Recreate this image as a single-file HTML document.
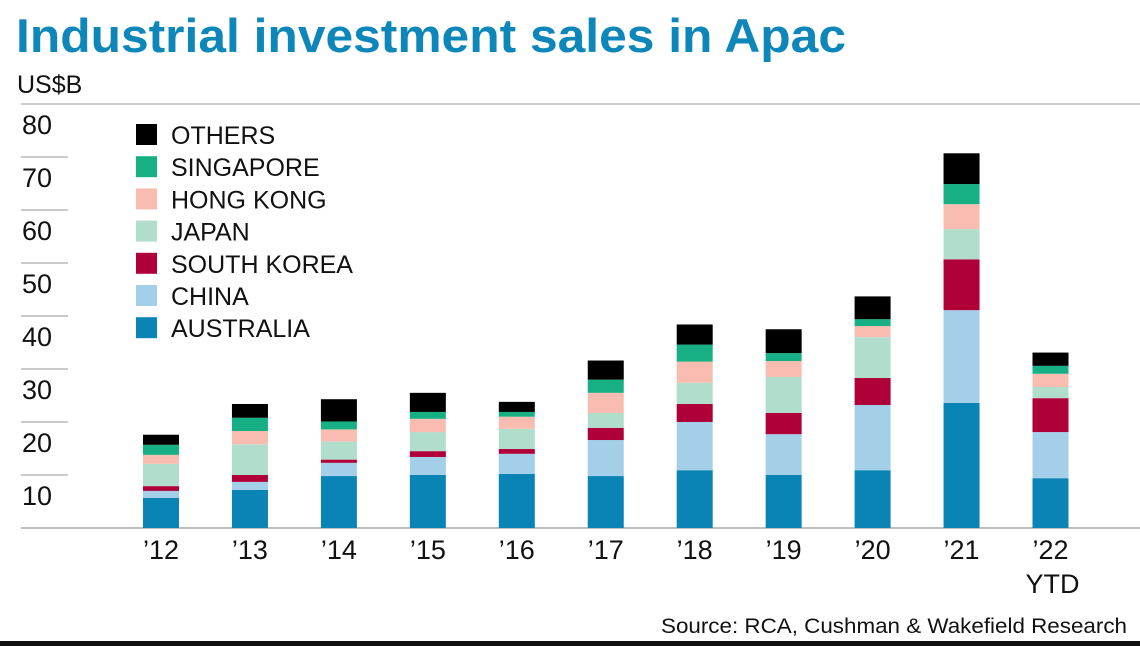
<!DOCTYPE html>
<html><head><meta charset="utf-8"><style>
body{margin:0;background:#fff;width:1140px;height:646px;overflow:hidden;font-family:"Liberation Sans",sans-serif}
svg{display:block}
</style></head><body>
<svg width="1140" height="646">
<text x="16" y="52" font-size="47" font-weight="bold" fill="#0d86b9" textLength="830" lengthAdjust="spacingAndGlyphs">Industrial investment sales in Apac</text>
<text x="17" y="93" font-size="25" fill="#111">US$B</text>
<g id="axes"></g>
<g id="bars"></g>
<g id="legend"></g>
<text x="661" y="633" font-size="21" fill="#111" textLength="466" lengthAdjust="spacingAndGlyphs">Source: RCA, Cushman &amp; Wakefield Research</text>
<rect x="0" y="641" width="1140" height="5" fill="#111"/>
</svg>
<script>
const categories=["’12","’13","’14","’15","’16","’17","’18","’19","’20","’21","’22"];
const seriesNames=["AUSTRALIA","CHINA","SOUTH KOREA","JAPAN","HONG KONG","SINGAPORE","OTHERS"];
const australia=[5.7,7.2,9.8,10,10.2,9.8,10.9,10,10.9,23.6,9.4];
const china=[1.3,1.5,2.5,3.4,3.8,6.8,9.1,7.7,12.3,17.5,8.7];
const southKorea=[0.9,1.3,0.6,1.1,0.9,2.3,3.4,4.0,5.1,9.6,6.4];
const japan=[4.2,5.8,3.4,3.6,3.8,2.8,4.0,6.8,7.7,5.7,2.1];
const hongKong=[1.7,2.5,2.3,2.5,2.3,3.8,4.0,3.0,2.1,4.7,2.5];
const singapore=[1.9,2.5,1.5,1.3,0.9,2.5,3.2,1.5,1.3,3.8,1.5];
const others=[1.9,2.6,4.2,3.6,1.9,3.6,3.8,4.5,4.3,5.8,2.5];
const yTicks=[10,20,30,40,50,60,70,80];
const colors=["#0a83b5","#a3cfe8","#b0003a","#b1ddcc","#f8bdb0","#17b084","#000"];
const series=[australia,china,southKorea,japan,hongKong,singapore,others];
const NS="http://www.w3.org/2000/svg";
const y=v=>528-v*5.3;
const x=i=>161+i*88.95;
function mk(t,a,p){const e=document.createElementNS(NS,t);for(const k in a)e.setAttribute(k,a[k]);p.appendChild(e);return e;}
const ax=document.getElementById('axes'),bg=document.getElementById('bars'),lg=document.getElementById('legend');
yTicks.forEach(t=>{
 const top=t===80;
 const l=mk('line',{x1:21,x2:top?1140:68,y1:y(t),y2:y(t),stroke:'#aaa','stroke-width':1.2},ax);
 
 
 const tx=mk('text',{x:22,y:y(t)+30,'font-size':27,fill:'#111'},ax);tx.textContent=t;
 
 
});
const base=mk('line',{x1:21,x2:1140,y1:528,y2:528,stroke:'#aaa','stroke-width':1.5},ax);


categories.forEach((c,i)=>{
 let cum=0;
 series.forEach((s,k)=>{
  const r=mk('rect',{x:x(i)-18,width:36,y:y(cum+s[i]),height:s[i]*5.3,fill:colors[k]},bg);
  
  
  cum+=s[i];
 });
 const t=mk('text',{x:x(i),y:559,'font-size':27,fill:'#111','text-anchor':'middle'},ax);t.textContent=c;
 
 
});
const ytd=mk('text',{x:x(10)+2,y:593,'font-size':27,fill:'#111','text-anchor':'middle'},ax);ytd.textContent='YTD';


for(let j=0;j<7;j++){
 const k=6-j,yy=124+j*32.2;
 const r=mk('rect',{x:136,y:yy,width:21,height:21,fill:colors[k]},lg);
 
 
 const t=mk('text',{x:171,y:yy+20,'font-size':25,fill:'#111'},lg);t.textContent=seriesNames[k];
 
 
}
</script>
</body></html>
